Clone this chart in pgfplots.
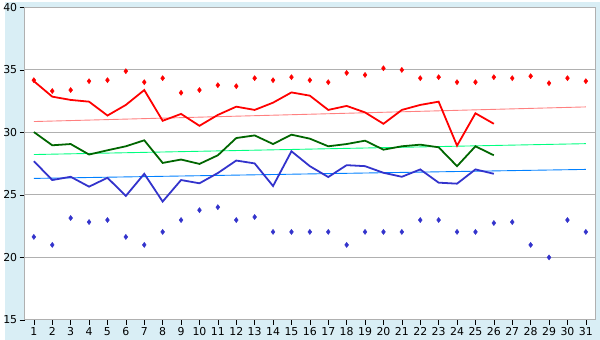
\documentclass[border=0pt]{standalone}
\usepackage{pgfplots}
\pgfplotsset{compat=1.18}
\usepackage{fontspec}
\setmainfont{DejaVu Sans}
\definecolor{bg}{HTML}{D9EEF5}
\definecolor{gridc}{HTML}{B0B0B0}
\definecolor{rline}{HTML}{FF0000}
\definecolor{rtrend}{HTML}{FF8080}
\definecolor{gline}{HTML}{006600}
\definecolor{gtrend}{HTML}{00FF80}
\definecolor{bline}{HTML}{3333CC}
\definecolor{btrend}{HTML}{0080FF}
\begin{document}
\begin{tikzpicture}[x=1pt,y=1pt]
\fill[bg] (0,0) rectangle (600,340);
\begin{axis}[
  at={(20pt,20pt)}, anchor=south west,
  scale only axis, width=575pt, height=315pt,
  xmin=0.5, xmax=31.5, ymin=15, ymax=40,
  xtick={1,...,31}, ytick={15,20,...,40},
  ymajorgrids, grid style={gridc, line width=0.9pt},
  axis line style={gridc, line width=0.9pt},
  tick style={black, line width=0.6pt},
  tick align=outside, major tick length=5pt,
  xtick pos=lower, ytick pos=left,
  axis background/.style={fill=white},
  tick label style={font=\fontsize{11}{13}\selectfont},
  xticklabel style={yshift=1pt},
  yticklabel style={xshift=1pt},
  /pgf/number format/assume math mode=true,
  clip=false,
]
% trends
\addplot[rtrend, line width=0.9pt] coordinates {(1,30.87) (31,32.04)};
\addplot[gtrend, line width=0.9pt] coordinates {(1,28.23) (31,29.1)};
\addplot[btrend, line width=0.9pt] coordinates {(1,26.32) (31,27.04)};
% max line
\addplot[rline, line width=1.8pt] coordinates {
(1,34.1) (2,32.86) (3,32.6) (4,32.46) (5,31.35) (6,32.2) (7,33.39) (8,30.93) (9,31.48) (10,30.53)
(11,31.4) (12,32.06) (13,31.8) (14,32.38) (15,33.2) (16,32.94) (17,31.8) (18,32.12) (19,31.6) (20,30.69)
(21,31.8) (22,32.2) (23,32.46) (24,28.94) (25,31.53) (26,30.69)};
% mean line
\addplot[gline, line width=1.8pt] coordinates {
(1,30.03) (2,28.97) (3,29.07) (4,28.23) (5,28.57) (6,28.89) (7,29.37) (8,27.56) (9,27.83) (10,27.48)
(11,28.17) (12,29.55) (13,29.76) (14,29.07) (15,29.82) (16,29.5) (17,28.89) (18,29.07) (19,29.34) (20,28.62)
(21,28.89) (22,29.02) (23,28.81) (24,27.3) (25,28.89) (26,28.17)};
% min line
\addplot[bline, line width=1.8pt] coordinates {
(1,27.7) (2,26.19) (3,26.45) (4,25.66) (5,26.37) (6,24.92) (7,26.69) (8,24.47) (9,26.19) (10,25.93)
(11,26.75) (12,27.75) (13,27.52) (14,25.71) (15,28.49) (16,27.3) (17,26.43) (18,27.38) (19,27.3) (20,26.77)
(21,26.45) (22,27.04) (23,25.98) (24,25.9) (25,27.04) (26,26.69)};
% max points
\addplot[only marks, mark=diamond*, mark size=2.6pt, rline] coordinates {
(1,34.18) (2,33.31) (3,33.39) (4,34.1) (5,34.18) (6,34.9) (7,34.02) (8,34.34) (9,33.17) (10,33.39)
(11,33.78) (12,33.7) (13,34.34) (14,34.18) (15,34.42) (16,34.18) (17,34.02) (18,34.76) (19,34.6) (20,35.13)
(21,35.0) (22,34.34) (23,34.42) (24,34.02) (25,34.02) (26,34.42) (27,34.34) (28,34.5) (29,33.94) (30,34.34) (31,34.1)};
% min points
\addplot[only marks, mark=diamond*, mark size=2.6pt, bline] coordinates {
(1,21.64) (2,21.0) (3,23.15) (4,22.83) (5,22.99) (6,21.64) (7,21.0) (8,22.04) (9,22.99) (10,23.78)
(11,24.02) (12,22.99) (13,23.23) (14,22.04) (15,22.04) (16,22.04) (17,22.04) (18,21.0) (19,22.04) (20,22.04)
(21,22.04) (22,22.99) (23,22.99) (24,22.04) (25,22.04) (26,22.75) (27,22.83) (28,21.0) (29,20.0) (30,22.99) (31,22.04)};
\end{axis}
\end{tikzpicture}
\end{document}
